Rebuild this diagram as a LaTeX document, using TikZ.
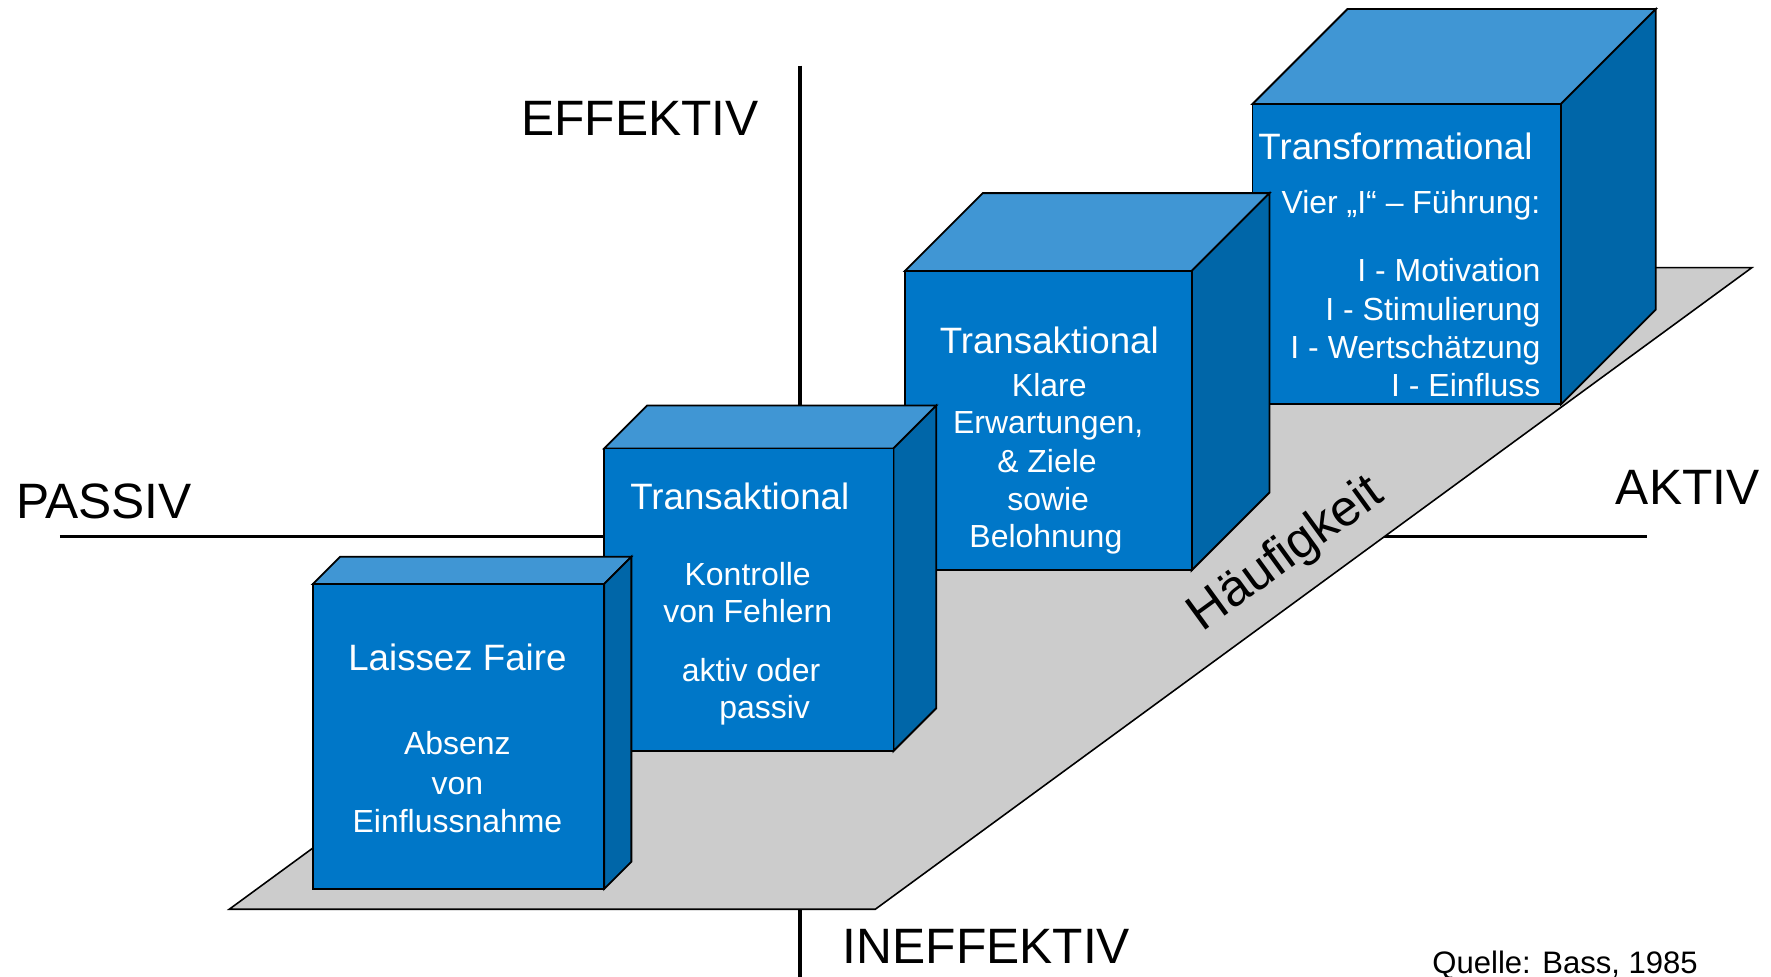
\documentclass[tikz,border=0pt]{standalone}
\usepackage{fontspec}
\setmainfont{Liberation Sans}

\definecolor{frontblue}{RGB}{0,119,200}
\definecolor{topblue}{RGB}{64,150,212}
\definecolor{sideblue}{RGB}{0,102,168}
\definecolor{planegray}{RGB}{204,204,204}

\tikzset{
  axisline/.style={line width=3.5pt, draw=black},
  face/.style={draw=black, line width=1.6pt, line join=miter},
  axislabel/.style={inner sep=0pt, font=\fontsize{44}{48}\selectfont},
  sourcelabel/.style={inner sep=0pt, font=\fontsize{27.5}{30}\selectfont},
  boxtitle/.style={inner sep=0pt, text=white, font=\fontsize{32.5}{36}\selectfont},
  boxbody/.style={inner sep=0pt, text=white, font=\fontsize{28.3}{34}\selectfont},
}

% cuboid: name, left, top, right, bottom, depth (image-style coordinates, y down)
\newcommand\leadblock[6]{%
  \coordinate (#1-ftl) at (#2,#3);
  \coordinate (#1-ftr) at (#4,#3);
  \coordinate (#1-fbr) at (#4,#5);
  \coordinate (#1-fbl) at (#2,#5);
  \coordinate (#1-btl) at (#2+#6,#3-#6);
  \coordinate (#1-btr) at (#4+#6,#3-#6);
  \coordinate (#1-bbr) at (#4+#6,#5-#6);
  \draw[face, fill=topblue] (#1-ftl) -- (#1-btl) -- (#1-btr) -- (#1-ftr) -- cycle;
  \draw[face, fill=sideblue] (#1-ftr) -- (#1-btr) -- (#1-bbr) -- (#1-fbr) -- cycle;
  \draw[face, fill=frontblue] (#1-ftl) rectangle (#1-fbr);
}

\begin{document}
\begin{tikzpicture}[x=1pt, y=-1pt]
\useasboundingbox (0,0) rectangle (1568,865);

% axes
\coordinate (vtop) at (708,58);
\coordinate (vbot) at (708,866);
\coordinate (hleft) at (53,475);
\coordinate (hright) at (1458,475);
\draw[axisline] (vtop) -- (vbot);
\draw[axisline] (hleft) -- (hright);

% ground plane
\coordinate (p1) at (203,805);
\coordinate (p2) at (775,805);
\coordinate (p3) at (1551,237);
\coordinate (p4) at (979,237);
\draw[face, fill=planegray, line width=1.4pt] (p1) -- (p2) -- (p3) -- (p4) -- cycle;

% blocks, back to front
\leadblock{tf}{1109}{92}{1382}{358}{84}
\leadblock{tb}{801}{240}{1055}{505}{69}
\leadblock{tk}{535}{397}{791}{665}{38}
\leadblock{lf}{277}{517}{535}{787}{24}

% axis labels
\node[axislabel, anchor=base east] (effektiv) at (672,120) {EFFEKTIV};
\node[axislabel, anchor=base west] (ineffektiv) at (746,853) {INEFFEKTIV};
\node[axislabel, anchor=base west] (passiv) at (14,459) {PASSIV};
\node[axislabel, anchor=base east] (aktiv) at (1558,447) {AKTIV};
\node[sourcelabel, anchor=base west] (quelle) at (1268,862) {Quelle: Bass, 1985};

% frequency label along the plane
\node[inner sep=0pt, anchor=base, rotate=36, font=\fontsize{45}{48}\selectfont] (haeufigkeit) at (1146,501) {Häufigkeit};

% Laissez Faire
\node[boxtitle, anchor=base] (lf-title) at (405,594) {Laissez Faire};
\node[boxbody, anchor=base] (lf-1) at (405,668) {Absenz};
\node[boxbody, anchor=base] (lf-2) at (405,703) {von};
\node[boxbody, anchor=base] (lf-3) at (405,737) {Einflussnahme};

% Transaktional (Kontrolle)
\node[boxtitle, anchor=base] (tk-title) at (655,451) {Transaktional};
\node[boxbody, anchor=base] (tk-1) at (662,518) {Kontrolle};
\node[boxbody, anchor=base] (tk-2) at (662,551) {von Fehlern};
\node[boxbody, anchor=base] (tk-3) at (665,603) {aktiv oder};
\node[boxbody, anchor=base] (tk-4) at (677,636) {passiv};

% Transaktional (Belohnung)
\node[boxtitle, anchor=base] (tb-title) at (929,313) {Transaktional};
\node[boxbody, anchor=base] (tb-1) at (929,351) {Klare};
\node[boxbody, anchor=base] (tb-2) at (928,384) {Erwartungen,};
\node[boxbody, anchor=base] (tb-3) at (927,418) {\& Ziele};
\node[boxbody, anchor=base] (tb-4) at (928,452) {sowie};
\node[boxbody, anchor=base] (tb-5) at (926,485) {Belohnung};

% Transformational
\node[boxtitle, anchor=base west] (tf-title) at (1114,141) {Transformational};
\node[boxbody, anchor=base east] (tf-0) at (1364,189) {Vier „I“ – Führung:};
\node[boxbody, anchor=base east] (tf-1) at (1364,249) {I - Motivation};
\node[boxbody, anchor=base east] (tf-2) at (1364,284) {I - Stimulierung};
\node[boxbody, anchor=base east] (tf-3) at (1364,317) {I - Wertschätzung};
\node[boxbody, anchor=base east] (tf-4) at (1364,351) {I - Einfluss};
\end{tikzpicture}
\end{document}
